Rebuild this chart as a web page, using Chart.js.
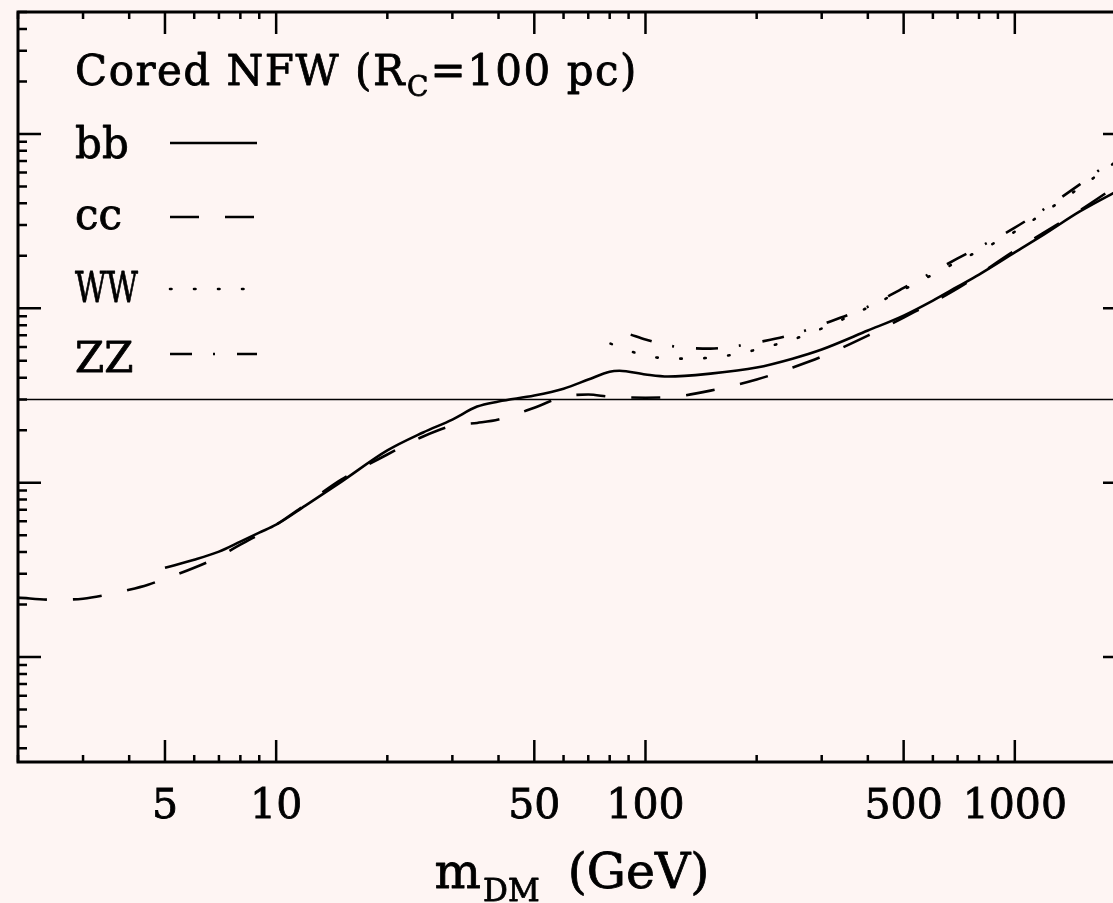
<!DOCTYPE html>
<html>
<head>
<meta charset="utf-8">
<script src="https://cdn.jsdelivr.net/npm/chart.js@4"></script>
<style>
  html, body { margin: 0; padding: 0; overflow: hidden; background: #fef5f3; }
  #wrap { position: absolute; left: 0; top: 0; width: 1140px; height: 903px; }
</style>
</head>
<body>
<div id="wrap"><canvas id="limits"></canvas></div>
<script>
// cross-section limits, in units of 1e-26 cm^3/s, vs dark matter mass (GeV)
var bbMass  = [5, 6, 7, 8, 9, 10, 12, 15, 20, 25, 30, 35, 40, 50, 60, 70, 80, 85, 100, 115, 150, 200, 250, 300, 400, 500, 600, 700, 800, 1000, 1200, 1500, 2000];
var bbSigma = [0.325, 0.361, 0.402, 0.459, 0.517, 0.574, 0.738, 1.01, 1.53, 1.94, 2.30, 2.73, 2.92, 3.16, 3.46, 3.90, 4.33, 4.38, 4.17, 4.06, 4.22, 4.57, 5.14, 5.80, 7.45, 9.08, 11.07, 13.3, 15.6, 20.9, 26.5, 35.9, 50.0];

var ccMass  = [2, 2.5, 3, 3.5, 4, 4.5, 5, 6, 7, 8, 10, 12, 15, 20, 25, 30, 35, 40, 50, 60, 70, 80, 100, 120, 150, 200, 250, 300, 400, 500, 700, 1000, 1500, 2000];
var ccSigma = [0.219, 0.213, 0.216, 0.228, 0.243, 0.260, 0.281, 0.325, 0.376, 0.441, 0.574, 0.748, 1.04, 1.45, 1.84, 2.12, 2.20, 2.30, 2.69, 3.11, 3.20, 3.11, 3.07, 3.11, 3.37, 3.90, 4.57, 5.28, 6.97, 8.85, 13.0, 21.4, 36.4, 54.7];

var wwMass  = [80.4, 90, 100, 120, 150, 180, 200, 250, 300, 400, 500, 700, 1000, 1500, 2000];
var wwSigma = [6.27, 5.72, 5.35, 5.14, 5.21, 5.50, 5.80, 6.61, 7.65, 10.1, 12.8, 18.5, 27.5, 49.2, 76.2];

var zzMass  = [91.2, 100, 120, 150, 180, 200, 250, 300, 400, 500, 700, 1000, 1500, 2000];
var zzSigma = [7.06, 6.61, 6.03, 5.87, 6.11, 6.36, 7.06, 8.06, 10.2, 13.1, 19.3, 29.0, 51.3, 81.3];

// thermal relic value
var relicMass  = [2, 2000];
var relicSigma = [3, 3];

var xLabelValues = [5, 10, 50, 100, 500, 1000];
var xLabelText   = ['5', '10', '50', '100', '500', '1000'];
var xMajor = [5, 10, 50, 100, 500, 1000];
var yMajor = [0.1, 1, 10, 100];

function pts(xs, ys) {
    return xs.map(function(v, i) { return { x: v, y: ys[i] }; });
}

function minors(lo, hi, skip) {
    var out = [];
    for (var d = -3; d <= 3; d++) {
        for (var k = 2; k <= 9; k++) {
            var v = k * Math.pow(10, d);
            if (v >= lo * 0.999 && v <= hi * 1.001 && skip.indexOf(k) < 0) out.push(v);
        }
    }
    return out;
}
var xMinor = minors(2, 2000, [5]);
var yMinor = minors(0.025, 500, []);

var SERIF = '"DejaVu Serif", serif';

// text with a thin outline so it reads as heavy as the plotter font
function heavyText(ctx, s, x, y, maxW) {
    if (maxW) {
        ctx.fillText(s, x, y, maxW);
        ctx.strokeText(s, x, y, maxW);
    } else {
        ctx.fillText(s, x, y);
        ctx.strokeText(s, x, y);
    }
}

var framePlugin = {
    id: 'frame',
    afterDraw: function(chart) {
        var ctx = chart.ctx, a = chart.chartArea;
        var xs = chart.scales.x, ys = chart.scales.y;
        ctx.save();
        ctx.strokeStyle = '#000';
        ctx.fillStyle = '#000';
        ctx.lineWidth = 3;
        ctx.setLineDash([]);
        ctx.strokeRect(a.left, a.top, a.right - a.left, a.bottom - a.top);

        ctx.lineWidth = 2.5;
        ctx.beginPath();
        function xt(list, len) {
            list.forEach(function(v) {
                var p = xs.getPixelForValue(v);
                ctx.moveTo(p, a.bottom); ctx.lineTo(p, a.bottom - len);
                ctx.moveTo(p, a.top); ctx.lineTo(p, a.top + len);
            });
        }
        function yt(list, len) {
            list.forEach(function(v) {
                var p = ys.getPixelForValue(v);
                ctx.moveTo(a.left, p); ctx.lineTo(a.left + len, p);
                ctx.moveTo(a.right, p); ctx.lineTo(a.right - len, p);
            });
        }
        xt(xMajor, 22); xt(xMinor, 7);
        yt(yMajor, 23); yt(yMinor, 9);
        ctx.stroke();

        // legend block
        ctx.lineWidth = 0.8;
        ctx.lineJoin = 'round';
        ctx.textBaseline = 'alphabetic';
        var x0 = 75;
        ctx.font = '42px ' + SERIF;
        ctx.letterSpacing = '1.5px';
        var t1 = 'Cored NFW (R';
        heavyText(ctx, t1, x0, 85);
        var w1 = ctx.measureText(t1).width;
        ctx.font = '28px ' + SERIF;
        ctx.letterSpacing = '0px';
        heavyText(ctx, 'C', x0 + w1 + 1, 96);
        var w2 = ctx.measureText('C').width;
        ctx.font = '42px ' + SERIF;
        ctx.letterSpacing = '1.5px';
        heavyText(ctx, '=100 pc)', x0 + w1 + w2 + 3, 85);
        ctx.letterSpacing = '0px';

        var rows = [158, 229, 302, 372];
        var lineY = [143, 217, 289, 354];
        var li = 0;
        chart.data.datasets.forEach(function(ds) {
            if (!ds.showKey) return;
            ctx.font = '42px ' + SERIF;
            ctx.lineWidth = 0.8;
            ctx.setLineDash([]);
            heavyText(ctx, ds.label, x0, rows[li], 63);
            ctx.lineWidth = ds.borderWidth;
            ctx.lineCap = ds.borderCapStyle || 'butt';
            ctx.setLineDash(ds.borderDash || []);
            ctx.beginPath();
            ctx.moveTo(170, lineY[li]);
            ctx.lineTo(257, lineY[li]);
            ctx.stroke();
            li++;
        });
        ctx.setLineDash([]);
        ctx.lineCap = 'butt';

        // x axis title: m_DM (GeV)
        ctx.lineWidth = 0.8;
        var cx = (a.left + a.right) / 2;
        ctx.font = '49px ' + SERIF;
        var wm = ctx.measureText('m').width;
        var wg = ctx.measureText('(GeV)').width;
        ctx.font = '31px ' + SERIF;
        var wd = ctx.measureText('DM').width;
        var gap = 30;
        var start = cx - (wm + wd + gap + wg) / 2;
        ctx.font = '49px ' + SERIF;
        heavyText(ctx, 'm', start, 888);
        heavyText(ctx, '(GeV)', start + wm + wd + gap, 888);
        ctx.font = '31px ' + SERIF;
        heavyText(ctx, 'DM', start + wm + 2, 901);
        ctx.restore();
    }
};

function line(label, xs, ys, dash, cap, key) {
    return {
        label: label,
        data: pts(xs, ys),
        borderColor: '#000',
        borderWidth: 2.6,
        borderDash: dash,
        borderCapStyle: cap,
        pointRadius: 0,
        fill: false,
        cubicInterpolationMode: 'monotone',
        showKey: key
    };
}

var datasets = [
    line('bb', bbMass, bbSigma, [], 'butt', true),
    line('cc', ccMass, ccSigma, [29, 26], 'butt', true),
    line('WW', wwMass, wwSigma, [1.5, 22.5], 'round', true),
    line('ZZ', zzMass, zzSigma, [22, 21, 2, 22], 'butt', true),
    { label: 'relic', data: pts(relicMass, relicSigma), borderColor: '#000', borderWidth: 1.5, pointRadius: 0, fill: false, showKey: false }
];

var chart = new Chart(document.getElementById('limits'), {
    type: 'line',
    data: { datasets: datasets },
    options: {
        responsive: true,
        maintainAspectRatio: false,
        animation: false,
        layout: { padding: { left: 18, top: 12, right: 14, bottom: 0 } },
        plugins: { legend: { display: false }, tooltip: { enabled: false } },
        scales: {
            x: {
                type: 'logarithmic',
                min: 2,
                max: 2000,
                position: 'bottom',
                afterBuildTicks: function(s) { s.ticks = xLabelValues.map(function(v) { return { value: v }; }); },
                afterFit: function(s) { s.height = 141; },
                grid: { display: false, drawTicks: false },
                border: { display: false },
                ticks: {
                    autoSkip: false,
                    maxRotation: 0,
                    padding: 21,
                    color: '#000',
                    textStrokeColor: '#000',
                    textStrokeWidth: 0.8,
                    font: { family: 'DejaVu Serif', size: 41 },
                    callback: function(v, i) { return xLabelText[i]; }
                }
            },
            y: {
                type: 'logarithmic',
                min: 0.025,
                max: 500,
                display: false
            }
        }
    },
    plugins: [framePlugin]
});
</script>
</body>
</html>
